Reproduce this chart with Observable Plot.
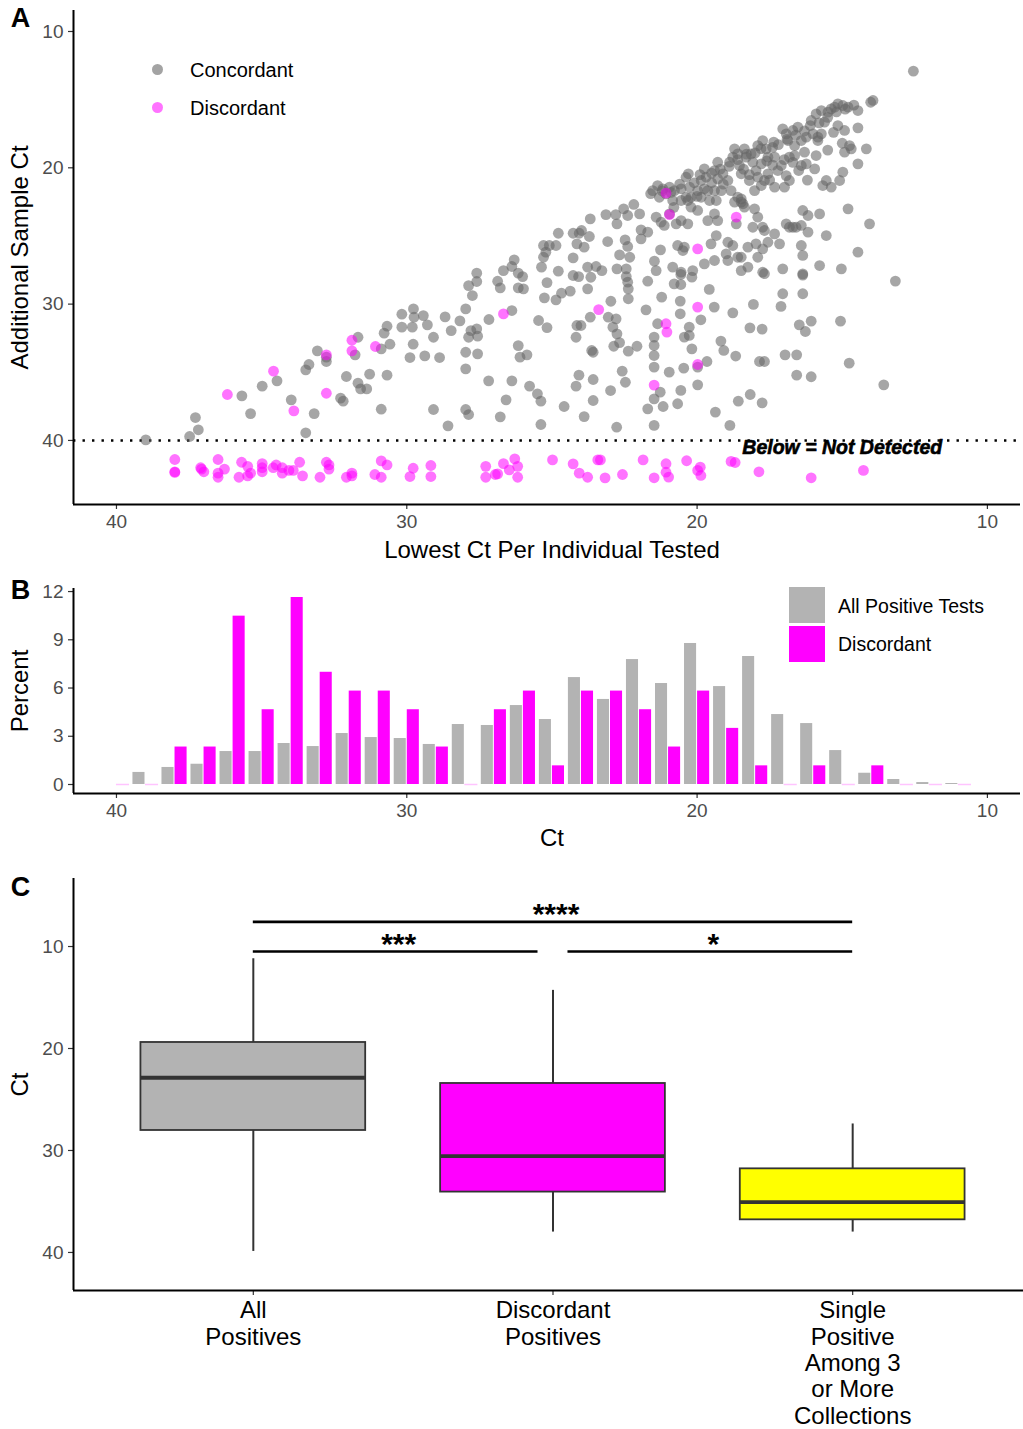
<!DOCTYPE html>
<html><head><meta charset="utf-8">
<script src="https://cdn.jsdelivr.net/npm/d3@7"></script>
<script src="https://cdn.jsdelivr.net/npm/@observablehq/plot@0.6"></script>
<style>
body{margin:0;background:#fff;font-family:"Liberation Sans",Arial,Helvetica,sans-serif;}
#fig{position:relative;width:1023px;height:1429px;overflow:hidden;background:#fff;}
.panel{position:absolute;left:0;}
.leg{position:absolute;font-size:20px;color:#000;white-space:nowrap;line-height:20px;}
.dot{position:absolute;width:11px;height:11px;border-radius:50%;}
.sw{position:absolute;width:36px;height:36px;}
</style></head><body><div id="fig"></div>
<script>
// ---------- Panel A data: [lowest Ct per individual, additional sample Ct] ----------
const concordant = [
[38.99,39.96],[37.48,39.71],[37.18,39.22],[37.28,38.32],[35.38,38.03],[35.68,36.73],[34.98,36.02],[34.47,35.63],[33.98,37.02],[33.48,39.44],[33.19,38.03],[33.48,34.82],[33.37,34.43],[33.08,33.43],[32.77,33.89],[32.77,34.21],[32.28,36.9],[32.19,37.12],[32.08,35.31],[31.68,35.8],[31.59,36.22],[31.38,36.22],[31.28,35.14],[30.68,35.21],[30.88,37.71],[31.78,33.72],[31.68,32.43],[30.88,33.28],[30.58,32.94],[30.78,32.13],[30.68,31.62],[30.17,30.74],[30.17,31.69],
[29.77,30.35],[29.75,30.96],[29.43,30.84],[29.81,31.69],[29.29,31.52],[29.08,32.43],[29.78,32.94],[29.89,33.92],[29.38,33.8],[28.87,33.92],[28.68,30.94],[28.47,31.94],[28.17,31.23],[27.97,30.35],[27.79,31.94],[27.59,31.82],[27.87,32.43],[27.56,32.35],[27.97,33.53],[27.56,33.65],[27.97,34.75],[27.87,28.64],[27.74,29.37],[27.59,28.34],[27.59,27.73],[27.17,31.13],[26.87,28.32],[26.78,28.81],[26.67,27.54],[26.38,27.24],[26.3,26.75],[26.38,30.47],[26.16,27.73],[26.01,27.98],[26.16,28.81],[25.98,28.88],[26.16,33.04],[26.1,33.89],[25.86,33.72],[25.46,31.2],[25.17,31.72],[25.26,29.54],[25.17,28.42],[25.36,27.29],[25.29,26.56],[25.29,25.7],[25.09,25.7],[24.86,25.7],[25.21,26.19],[24.78,27.58],[24.86,29.69],[24.67,29.2],[24.37,29.05],[24.78,24.8],[24.27,24.8],[24.06,24.8],[23.98,24.6],[23.71,25.04],[24.14,25.58],[23.89,25.82],[24.27,26.61],[24.27,27.9],[24.08,27.98],[23.77,27.29],[23.66,28.03],[23.48,27.24],[23.28,27.54],[23.77,28.88],[23.68,23.75],[24.14,31.57],[24.0,31.57],[23.68,30.96],[24.17,32.43],[23.63,33.4],[23.58,33.53],[24.07,35.21],[24.17,36.02],[23.58,35.53],[23.58,37.07],[23.06,30.96],[22.79,31.08],[22.9,31.69],[22.76,32.18],[22.87,33.09],[22.67,32.82],[22.37,33.45],[22.07,33.09],[22.97,29.79],[23.08,25.41],[23.14,23.43],[22.8,23.43],[22.76,24.11],[22.53,23.01],[22.39,23.5],[22.18,22.69],[21.98,23.38],[22.67,26.39],[22.48,25.29],[22.39,25.77],[22.32,26.56],[22.44,27.41],[22.44,27.98],[22.39,28.39],[22.37,28.88],[22.37,29.61],[22.76,27.41],[21.93,24.55],[21.93,25.21],[21.7,24.72],[21.76,30.42],[21.7,28.32],[22.58,34.92],[22.47,35.73],[22.98,36.34],[29.08,37.73],[27.97,37.73],[27.87,38.1],[28.58,38.93],[27.18,35.63],[26.38,35.63],[25.77,36.02],[25.5,36.58],[25.38,37.12],[26.58,37.02],[26.78,38.27],[24.58,37.51],[25.38,38.83],[23.89,38.25],[22.77,39.03],[21.7,37.68],
[21.53,21.67],[21.36,21.3],[21.18,21.54],[21.07,21.91],[20.95,21.42],[21.3,22.16],[20.84,22.4],[20.78,21.67],[20.55,21.54],[20.38,20.69],[20.3,20.44],[20.26,21.42],[20.21,22.16],[20.38,22.16],[20.55,22.4],[19.98,21.67],[19.86,22.16],[19.75,21.54],[19.63,21.67],[19.57,22.4],[19.75,20.08],[19.69,20.69],[19.86,20.93],[19.4,20.2],[19.29,19.59],[19.29,20.81],[19.11,20.44],[19.17,21.67],[19.4,21.67],[19.34,22.4],[18.94,20.93],[18.88,19.59],[18.77,19.22],[18.71,18.61],[18.6,18.98],[18.54,19.83],[18.48,20.44],[18.83,21.67],[18.6,22.16],[18.48,22.52],[18.37,18.61],[18.31,19.22],[18.14,18.98],[18.08,19.59],[17.97,20.2],[17.91,20.69],[18.2,20.93],[18.02,21.67],[17.79,21.3],[17.68,20.93],[17.91,18.37],[17.74,18.0],[17.62,18.61],[17.56,19.22],[17.79,19.71],[17.56,20.44],[17.36,18.12],[17.33,19.22],[17.22,20.2],[17.1,19.83],[16.93,20.57],[16.82,20.93],[16.99,21.42],[17.33,21.42],[17.05,17.14],[16.93,17.51],[16.87,18.0],[16.7,17.26],[16.53,17.02],[16.64,19.1],[16.64,18.37],[16.82,19.22],[16.41,18.0],[16.24,17.75],[16.3,18.85],[16.01,17.51],[15.84,17.75],[15.72,17.51],[15.84,18.0],[16.41,19.83],[16.24,19.71],[15.95,20.08],[16.07,16.53],[15.9,16.04],[15.72,15.8],[15.61,16.65],[15.49,15.92],[15.38,15.68],[15.26,15.55],[15.15,15.31],[14.98,15.43],[14.8,15.55],[14.46,15.8],[14.02,15.19],[13.94,15.06],[15.15,16.9],[14.92,17.26],[14.46,17.07],[14.75,18.37],[14.92,18.85],[14.69,18.61],[14.17,18.61],[14.46,19.71],[14.98,20.32],[15.09,20.93],[15.38,21.42],[15.67,21.3],[15.55,20.93],[14.8,23.01],[14.06,24.11],[14.46,26.19],
[21.41,23.62],[21.24,23.99],[21.13,24.23],[20.95,23.38],[20.72,24.11],[20.55,23.87],[20.32,24.11],[20.21,22.89],[20.32,22.4],[19.98,23.13],[19.63,23.87],[19.4,23.38],[19.29,23.87],[19.34,24.97],[19.52,25.58],[19.75,27.05],[19.4,26.8],[19.0,26.31],[18.94,26.8],[18.77,25.7],[18.94,25.46],[18.6,26.56],[18.48,26.56],[18.25,25.82],[17.97,25.58],[17.74,25.95],[17.56,25.46],[17.91,26.56],[17.91,23.62],[18.02,23.01],[17.74,24.36],[17.68,24.6],[18.08,24.36],[18.42,22.64],[18.48,22.28],[18.71,22.52],[18.65,24.11],[18.37,22.89],[17.33,24.85],[17.16,25.58],[16.93,24.11],[16.82,24.36],[16.7,24.36],[16.59,24.36],[16.41,24.23],[16.36,23.13],[16.18,23.5],[16.18,24.72],[15.78,23.38],[15.55,24.97],[16.41,25.7],[16.36,26.43],[17.05,27.41],[16.36,27.78],[15.78,27.17],[15.03,27.41],[17.74,27.66],[18.25,27.29],[18.48,27.54],[20.67,25.7],[20.44,25.82],[20.49,26.07],[20.55,27.66],[20.15,27.54],[20.84,27.29],[21.26,26.02],[21.47,26.85],[21.41,27.54],
[21.48,32.42],[21.48,33.03],[21.48,33.77],[21.48,34.62],[21.48,36.95],[21.48,38.9],[21.27,36.46],[21.17,37.51],[21.36,31.44],[21.22,29.49],[20.58,29.78],[20.58,30.71],[20.56,27.82],[20.18,28.02],[20.79,28.51],[20.56,28.56],[20.44,32.42],[20.27,31.69],[20.27,32.3],[20.18,33.28],[20.96,34.99],[20.46,34.7],[20.56,36.33],[20.67,37.31],[19.98,34.62],[19.66,34.21],[19.98,35.92],[19.87,31.15],[19.58,28.92],[19.41,30.22],[18.77,30.64],[19.18,32.71],[19.08,33.4],[18.67,33.81],[19.37,37.92],[18.87,38.9],[18.58,37.12],[18.17,36.63],[17.76,37.24],[18.18,31.74],[17.76,31.83],[18.06,30.02],[17.85,34.21],[17.68,34.21],[17.05,29.24],[17.11,30.17],[16.36,29.24],[16.36,27.87],[17.68,27.77],[16.48,31.52],[16.27,32.01],[16.07,31.25],[16.97,33.72],[16.57,33.72],[16.57,35.21],[16.07,35.33],[15.06,31.25],[14.76,34.33],[13.57,35.92],[13.17,28.31],
[12.55,12.91],
[21.6,21.9],[21.2,21.7],[20.9,21.8],[20.6,21.2],[20.1,21.1],[19.9,20.5],[19.5,20.4],[19.2,20.1],[18.9,19.9],[18.6,19.4],[18.3,19.0],[18.0,18.9],[17.8,18.6],[17.4,18.5],[17.2,18.3],[16.9,17.9],[16.6,17.6],[16.3,17.3],[16.1,16.9],[15.8,16.7],[15.5,16.3],[15.2,15.9],[14.9,15.7],[14.6,15.4],[18.4,20.1],[18.2,20.5],[17.6,19.5],[17.4,19.8],[17.0,19.4],[16.7,19.6],[16.5,20.2],[19.1,21.2],[19.5,21.1],[20.0,22.1],[20.8,22.9],[17.5,20.9],[16.2,20.9],[15.9,19.1],[15.5,18.7],[15.3,17.4],[15.0,18.2]
];
const discordant = [
[36.18,36.63],[34.59,34.92],[33.89,37.83],[32.77,33.72],[32.77,36.54],[31.89,32.65],[31.89,33.43],[31.08,33.11],
[26.67,30.72],[23.39,30.4],[21.07,21.86],[20.95,23.43],[18.65,23.62],[19.98,25.95],
[19.98,30.22],[21.07,31.44],[21.04,32.05],[19.98,34.43],[21.48,35.94],
[37.99,41.4],[37.99,42.3],[37.99,42.35],[37.1,42.0],[37.07,42.1],[36.99,42.3],[36.5,41.4],[36.28,42.1],[36.5,42.4],[36.5,42.7],[35.78,42.7],[35.69,41.6],[35.48,41.9],[35.38,42.4],[35.48,42.6],[34.98,41.7],[34.98,42.0],[34.98,42.3],[34.6,42.0],[34.5,41.8],[34.29,42.0],[34.29,42.4],[34.06,42.2],[33.91,42.2],[33.69,41.6],[33.59,42.6],[32.99,42.7],[32.77,41.6],[32.68,41.8],[32.68,42.1],[32.08,42.7],[31.89,42.4],[31.89,42.6],[31.1,42.5],[30.88,41.5],[30.68,41.8],[30.88,42.7],
[29.78,42.04],[29.89,42.65],[29.17,41.84],[29.17,42.65],[27.28,41.9],[27.28,42.7],[26.95,42.5],[26.87,42.45],[26.67,41.7],[26.47,42.16],[26.28,41.35],[26.18,41.9],[26.18,42.7],[24.98,41.43],[24.27,41.72],[24.06,42.4],[23.77,42.7],[23.42,41.43],[23.33,41.43],[23.17,42.75],[22.57,42.5],[21.86,41.43],
[21.48,42.74],[21.07,41.71],[21.07,42.33],[20.98,42.69],[20.36,41.49],[19.98,42.2],[19.89,41.96],[19.87,42.57],[18.83,41.54],[18.69,41.62],[17.87,42.3],[16.07,42.74],[14.27,42.2]
];
const detectionLimit = 40;
const noteText = "Below = Not Detected";
const noteX = 15.0, noteY = 40.55;
const ticksA = [10, 20, 30, 40];
const ticksCt = [40, 30, 20, 10];

// ---------- Panel B data: percent of tests per Ct bin ----------
const bins = [40,39,38,37,36,35,34,33,32,31,30,29,28,27,26,25,24,23,22,21,20,19,18,17,16,15,14,13,12,11];
const allPositivePct = [0,0.75,1.06,1.26,2.05,2.05,2.55,2.36,3.17,2.92,2.86,2.49,3.73,3.67,4.91,4.04,6.65,5.29,7.77,6.28,8.77,6.09,7.96,4.35,3.79,2.11,0.70,0.31,0.12,0.06];
const discordantPct = [0,0,2.33,2.33,10.47,4.65,11.63,6.98,5.81,5.81,4.65,2.33,0,4.65,5.81,1.16,5.81,5.81,4.65,2.33,5.81,3.49,1.16,0,1.16,0,1.16,0,0,0];
const ticksPct = [0, 3, 6, 9, 12];

// ---------- Panel C data: box summaries ----------
const groups = ["All\nPositives", "Discordant\nPositives", "Single\nPositive\nAmong 3\nor More\nCollections"];
const whiskerLow = [11.2, 14.3, 27.4];
const q1 = [19.41, 23.43, 31.8];
const median = [22.87, 30.56, 35.07];
const q3 = [28.04, 34.08, 36.8];
const whiskerHigh = [39.9, 38.0, 38.0];
const sigFrom = [1, 1, 2.05];
const sigTo = [3, 1.95, 3];
const sigY = [7.58, 10.49, 10.49];
const sigLabel = ["****", "***", "*"];
const ticksC = [10, 20, 30, 40];

// ---------- styles ----------
const FONT = "Liberation Sans, Arial, Helvetica, sans-serif";
const boxFill = ["#b3b3b3", "#ff00ff", "#ffff00"];
const axisOpts = {tickSize: 5, tickPadding: 5, fontSize: 19, fill: "#4d4d4d", stroke: "#333", strokeWidth: 1.2, label: null};
const W = 1023;
const fig = document.getElementById("fig");
function place(svg, top){ const d = document.createElement("div"); d.className = "panel"; d.style.top = top + "px"; d.appendChild(svg); fig.appendChild(d); }
function html(cls, css, text){ const e = document.createElement("div"); e.className = cls; Object.assign(e.style, css); if (text) e.textContent = text; fig.appendChild(e); }
const ylab = (t) => Plot.text([t], {frameAnchor: "left", textAnchor: "middle", lineAnchor: "middle", rotate: -90, dx: -53, text: d => d, fontSize: 24, fill: "#000"});
const xlab = (t, dy) => Plot.text([t], {frameAnchor: "bottom", textAnchor: "middle", lineAnchor: "middle", dy, dx: 5, text: d => d, fontSize: 24, fill: "#000"});
const tag = (t, dy) => Plot.text([t], {frameAnchor: "top-left", textAnchor: "middle", lineAnchor: "middle", dx: -53, dy, text: d => d, fontSize: 27, fontWeight: "bold", fill: "#000"});

// ---------- Panel A ----------
const xA = [41.48, 8.86], yA = [44.7, 8.46];
const A = Plot.plot({
  width: W, height: 570, marginLeft: 73, marginRight: 3, marginTop: 10, marginBottom: 66,
  style: {fontFamily: FONT, background: "transparent", overflow: "visible"},
  x: {domain: xA, axis: null}, y: {domain: yA, axis: null},
  marks: [
    Plot.ruleY([detectionLimit], {stroke: "#000", strokeWidth: 2.4, strokeDasharray: "2.4 7.1"}),
    Plot.dot(concordant, {x: d => d[0], y: d => d[1], r: 5.4, fill: "#666", fillOpacity: 0.58}),
    Plot.dot(discordant, {x: d => d[0], y: d => d[1], r: 5.4, fill: "#ff00ff", fillOpacity: 0.55}),
    Plot.text([noteText], {x: noteX, y: noteY, text: d => d, fontSize: 19.5, fontStyle: "italic", fontWeight: "bold", fill: "#000", stroke: "#000", strokeWidth: 0.6, letterSpacing: -0.9}),
    Plot.axisY({...axisOpts, ticks: ticksA}),
    Plot.axisX({...axisOpts, ticks: ticksCt}),
    Plot.ruleX([xA[0]], {stroke: "#000", strokeWidth: 2}),
    Plot.ruleY([yA[0]], {stroke: "#000", strokeWidth: 2}),
    ylab("Additional Sample Ct"),
    xlab("Lowest Ct Per Individual Tested", 46),
    tag("A", 8)
  ]
});
place(A, 0);
html("dot", {left: "152px", top: "64px", background: "rgba(102,102,102,0.6)"});
html("leg", {left: "190px", top: "60px"}, "Concordant");
html("dot", {left: "152px", top: "102px", background: "rgba(255,0,255,0.55)"});
html("leg", {left: "190px", top: "98px"}, "Discordant");

// ---------- Panel B ----------
const half = 0.45;
const barRows = [];
bins.forEach((b, i) => {
  barRows.push({group: "All Positive Tests", x1: b + half, x2: b, y: allPositivePct[i]});
  barRows.push({group: "Discordant", x1: b, x2: b - half, y: discordantPct[i]});
});
const xB = [41.48, 8.86], yB = [-0.56, 12.19];
const B = Plot.plot({
  width: W, height: 280, marginLeft: 73, marginRight: 3, marginTop: 18, marginBottom: 57,
  style: {fontFamily: FONT, background: "transparent", overflow: "visible"},
  x: {domain: xB, axis: null}, y: {domain: yB, axis: null},
  color: {domain: ["All Positive Tests", "Discordant"], range: ["#b3b3b3", "#ff00ff"]},
  marks: [
    Plot.rectY(barRows.filter(d => d.y > 0), {x1: "x1", x2: "x2", y1: 0, y2: "y", fill: "group", insetLeft: 0.5, insetRight: 0.5}),
    Plot.ruleY(barRows.filter(d => d.y === 0 && d.group === "Discordant"), {x1: "x1", x2: "x2", y: 0, stroke: "#ffc4ff", strokeWidth: 1.5}),
    Plot.axisY({...axisOpts, ticks: ticksPct}),
    Plot.axisX({...axisOpts, ticks: ticksCt}),
    Plot.ruleX([xB[0]], {stroke: "#000", strokeWidth: 2}),
    Plot.ruleY([yB[0]], {stroke: "#000", strokeWidth: 2}),
    ylab("Percent"),
    xlab("Ct", 45),
    tag("B", 2)
  ]
});
place(B, 570);
html("sw", {left: "789px", top: "587px", background: "#b3b3b3"});
html("leg", {left: "838px", top: "596px", fontSize: "19.5px"}, "All Positive Tests");
html("sw", {left: "789px", top: "626px", background: "#ff00ff"});
html("leg", {left: "838px", top: "634px", fontSize: "19.5px"}, "Discordant");

// ---------- Panel C ----------
const idx = groups.map((_, i) => i);
const sidx = sigLabel.map((_, i) => i);
const boxHalf = 0.375;
const xC = [0.4, 3.57], yC = [43.73, 3.33];
const C = Plot.plot({
  width: W, height: 579, marginLeft: 73, marginRight: 0, marginTop: 28, marginBottom: 139,
  style: {fontFamily: FONT, background: "transparent", overflow: "visible"},
  x: {type: "linear", domain: xC, axis: null}, y: {type: "linear", domain: yC, axis: null},
  marks: [
    Plot.ruleX(idx, {x: i => i + 1, y1: i => whiskerLow[i], y2: i => q1[i], stroke: "#333", strokeWidth: 2}),
    Plot.ruleX(idx, {x: i => i + 1, y1: i => q3[i], y2: i => whiskerHigh[i], stroke: "#333", strokeWidth: 2}),
    Plot.rect(idx, {x1: i => i + 1 - boxHalf, x2: i => i + 1 + boxHalf, y1: i => q1[i], y2: i => q3[i], fill: i => boxFill[i], stroke: "#333", strokeWidth: 1.8}),
    Plot.ruleY(idx, {x1: i => i + 1 - boxHalf, x2: i => i + 1 + boxHalf, y: i => median[i], stroke: "#333", strokeWidth: 3.8}),
    Plot.ruleY(sidx, {x1: i => sigFrom[i], x2: i => sigTo[i], y: i => sigY[i], stroke: "#000", strokeWidth: 2.6}),
    Plot.text(sidx, {x: i => (sigFrom[i] + sigTo[i]) / 2, y: i => sigY[i], text: i => sigLabel[i], dy: -7, dx: 3, fontSize: 30, fontWeight: "bold", fill: "#000", letterSpacing: -2}),
    Plot.axisY({...axisOpts, ticks: ticksC}),
    Plot.axisX({...axisOpts, ticks: [1, 2, 3], tickFormat: () => ""}),
    Plot.text(idx, {x: i => i + 1, y: yC[0], text: i => groups[i], lineAnchor: "top", dy: 9, fontSize: 24, lineHeight: 1.1, fill: "#000"}),
    Plot.ruleX([xC[0]], {stroke: "#000", strokeWidth: 2}),
    Plot.ruleY([yC[0]], {stroke: "#000", strokeWidth: 2}),
    ylab("Ct"),
    tag("C", 9)
  ]
});
place(C, 850);
</script></body></html>
